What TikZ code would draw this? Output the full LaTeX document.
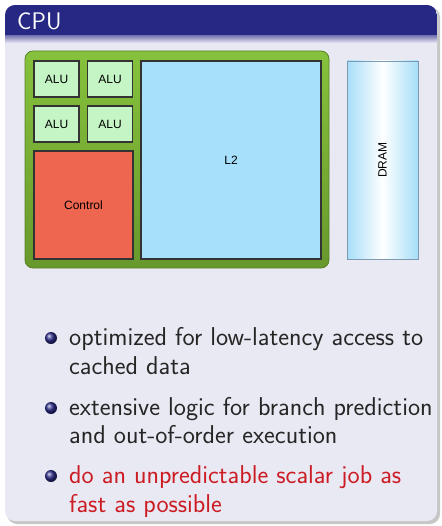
\documentclass[tikz,border=0pt]{standalone}
\usepackage{fontspec}
\newfontfamily\diagfont{Liberation Sans}
\usetikzlibrary{shadings}

\definecolor{titlebg}{RGB}{38,40,132}
\definecolor{bodybg}{RGB}{233,233,243}
\definecolor{chiptop}{RGB}{134,194,60}
\definecolor{chipbot}{RGB}{104,152,44}
\definecolor{chipedge}{RGB}{90,130,40}
\definecolor{alufill}{RGB}{197,245,197}
\definecolor{ctrlfill}{RGB}{238,102,80}
\definecolor{cachefill}{RGB}{166,224,250}
\definecolor{dramedge}{RGB}{127,154,176}
\definecolor{dramside}{RGB}{166,222,248}
\definecolor{alertred}{RGB}{204,28,36}
\definecolor{ballblue}{RGB}{45,45,140}

\tikzset{
  unit/.style={draw=black!80, line width=1.1pt, inner sep=0pt, font=\diagfont\fontsize{12}{14}\selectfont},
  alu/.style={unit, fill=alufill, minimum width=45pt, minimum height=36pt},
  bullettext/.style={anchor=base west, inner sep=0pt, text=black!85, font=\sffamily\fontsize{25.8}{30}\selectfont},
  ball/.style={circle, inner sep=0pt, minimum size=12pt, ball color=ballblue}
}

\begin{document}
\begin{tikzpicture}[x=1pt,y=-1pt]
\useasboundingbox (0,0) rectangle (441,526);

% block: shadow, body, title bar
\fill[black!22, rounded corners=10pt] (7,7) rectangle (440,524);
\fill[bodybg, rounded corners=10pt] (5,5) rectangle (437,521);
\begin{scope}
  \clip[rounded corners=10pt] (5,5) rectangle (437,521);
  \fill[titlebg] (5,5) rectangle (437,36);
  \shade[top color=titlebg!55!bodybg, bottom color=bodybg] (5,36) rectangle (437,43);
\end{scope}
\node[anchor=base west, inner sep=0pt, text=white, font=\sffamily\fontsize{24}{28}\selectfont] (title) at (17,30) {CPU};

% chip
\node[rounded corners=8pt, draw=chipedge, line width=0.8pt, top color=chiptop, bottom color=chipbot,
      minimum width=304pt, minimum height=217pt, inner sep=0pt] (chip) at (177,159.5) {};

\node[alu] (alu1) at (56.5,79) {ALU};
\node[alu] (alu2) at (110,79) {ALU};
\node[alu] (alu3) at (56.5,124) {ALU};
\node[alu] (alu4) at (110,124) {ALU};
\node[unit, fill=ctrlfill, minimum width=99pt, minimum height=108pt] (ctrl) at (83.5,205) {Control};
\node[unit, fill=cachefill, minimum width=180pt, minimum height=198pt] (l2) at (231,160) {L2};

% main memory
\shade[left color=dramside, right color=dramside, middle color=white] (347,61) rectangle (418,259);
\node[draw=dramedge, line width=0.8pt, minimum width=71pt, minimum height=198pt, inner sep=0pt] (dram) at (382.5,160) {};
\node[rotate=90, inner sep=0pt, font=\diagfont\fontsize{12}{14}\selectfont] (dramlabel) at (dram.center) {DRAM};

% bullet list
\node[ball] (b1) at (51,338) {};
\node[bullettext] (t1) at (69,345) {optimized for low-latency access to};
\node[bullettext] (t1b) at (69,374) {cached data};
\node[ball] (b2) at (51,408) {};
\node[bullettext] (t2) at (69,415) {extensive logic for branch prediction};
\node[bullettext] (t2b) at (69,443) {and out-of-order execution};
\node[ball] (b3) at (51,476) {};
\node[bullettext, text=alertred] (t3) at (69,483) {do an unpredictable scalar job as};
\node[bullettext, text=alertred] (t3b) at (69,512) {fast as possible};
\end{tikzpicture}
\end{document}
